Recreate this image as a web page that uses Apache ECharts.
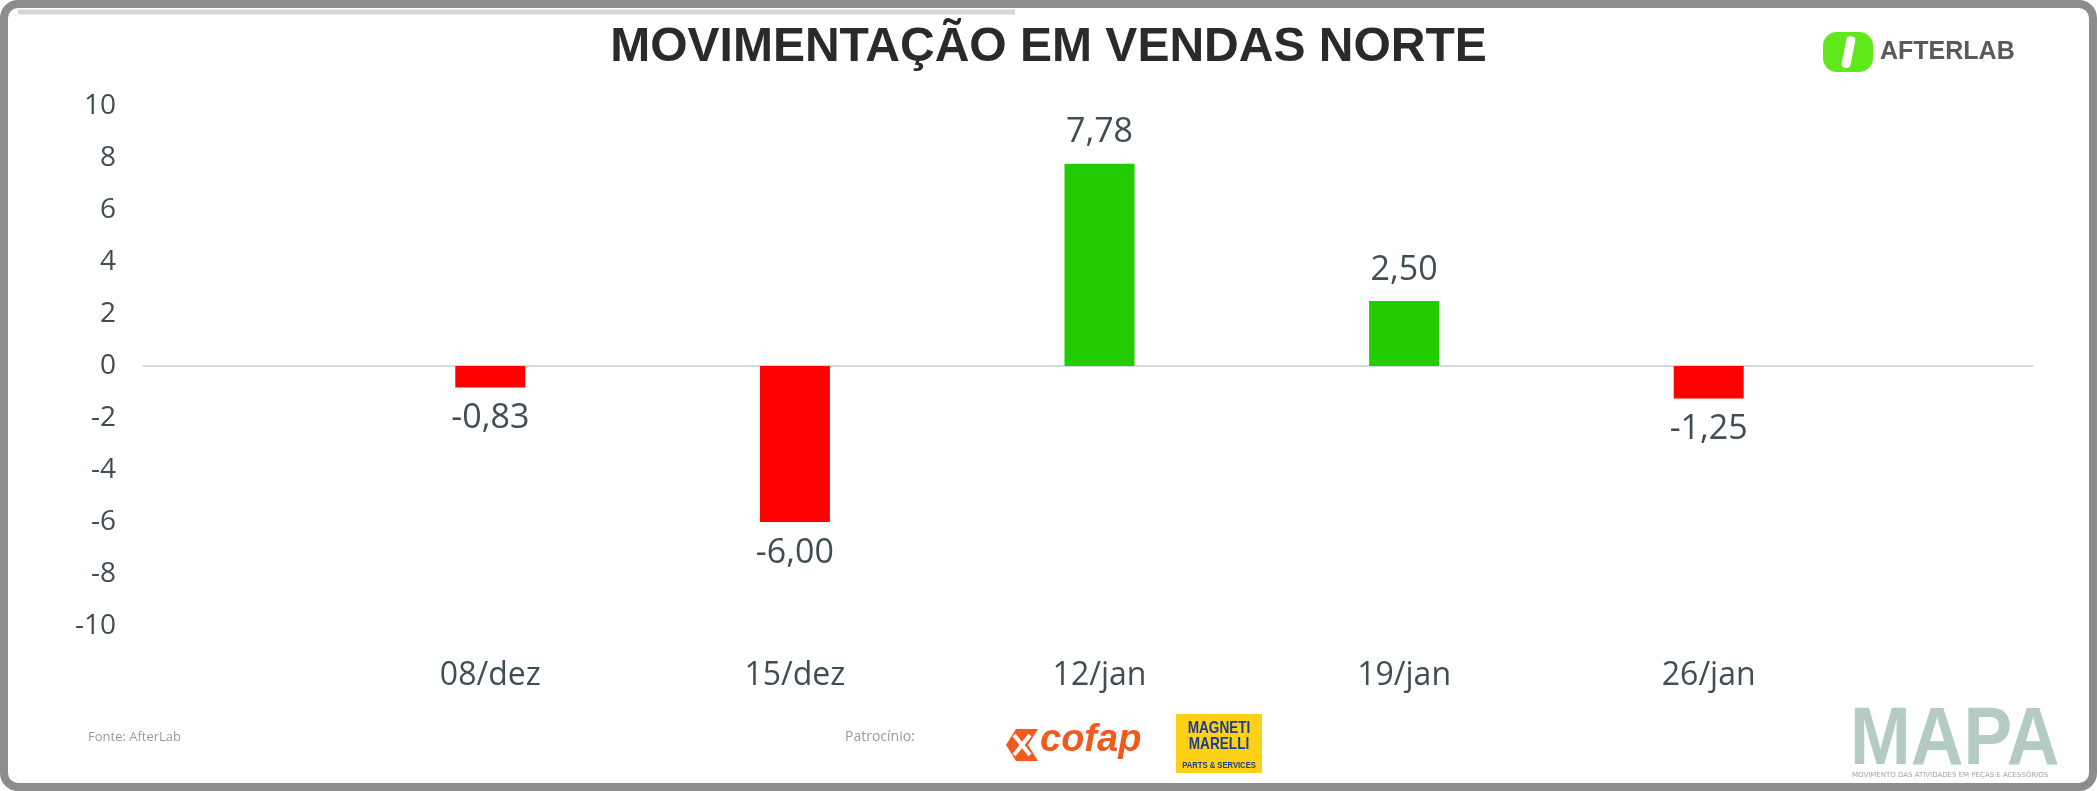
<!DOCTYPE html>
<html>
<head>
<meta charset="utf-8">
<script src="https://cdn.jsdelivr.net/npm/echarts@6/dist/echarts.min.js"></script>
<style>
html,body{margin:0;padding:0;background:#fff;}
#chart{width:2097px;height:791px;}
</style>
</head>
<body>
<div id="chart"></div>
<script>
// ---- data ----
const categories = ['08/dez', '15/dez', '12/jan', '19/jan', '26/jan'];
const variation = [-0.83, -6.00, 7.78, 2.50, -1.25];
const yMin = -10;
const yMax = 10;
const yStep = 2;
const titleText = 'MOVIMENTAÇÃO EM VENDAS NORTE';

// ---- style ----
const textColor = '#3f4e55';
const posColor = '#22cc00';
const negColor = '#ff0000';
const font = "'Open Sans', 'Noto Sans', sans-serif";

const barData = variation.map(v => ({
  value: v,
  itemStyle: { color: v >= 0 ? posColor : negColor },
  label: { position: v >= 0 ? 'top' : 'bottom' }
}));

const gridTop = 106, gridHeight = 520;

const chart = echarts.init(document.getElementById('chart'), null, { renderer: 'canvas' });
chart.setOption({
  backgroundColor: '#ffffff',
  animation: false,
  title: {
    text: titleText,
    left: 'center',
    top: 19,
    textStyle: { fontFamily: "'Liberation Sans', Arial, sans-serif", fontWeight: 'bold', fontSize: 48, color: '#2a2a2a' }
  },
  grid: [
    { left: 143, right: 64, top: gridTop, height: gridHeight },
    { left: 338, right: 236, top: gridTop, height: gridHeight }
  ],
  xAxis: [
    {
      gridIndex: 0, type: 'category', data: categories,
      axisLine: { show: true, onZero: true, lineStyle: { color: '#d3dcdc', width: 2 } },
      axisTick: { show: false }, axisLabel: { show: false }, splitLine: { show: false }
    },
    {
      gridIndex: 1, type: 'category', data: categories,
      axisLine: { show: false, onZero: false }, axisTick: { show: false },
      axisLabel: { show: true, margin: 34, fontFamily: font, fontSize: 32, color: textColor }
    }
  ],
  yAxis: [
    {
      gridIndex: 0, type: 'value', min: yMin, max: yMax, interval: yStep,
      axisLine: { show: false }, axisTick: { show: false }, splitLine: { show: false },
      axisLabel: { margin: 27, fontFamily: font, fontSize: 28, color: textColor }
    },
    {
      gridIndex: 1, type: 'value', min: yMin, max: yMax, interval: yStep, show: false,
      splitLine: { show: false }
    }
  ],
  series: [{
    type: 'bar',
    xAxisIndex: 1, yAxisIndex: 1,
    data: barData,
    barWidth: 70,
    label: {
      show: true, distance: 14,
      fontFamily: font, fontSize: 34, color: textColor,
      formatter: p => p.value.toFixed(2).replace('.', ',')
    }
  }],
  graphic: [
    // frame
    { type: 'rect', shape: { x: 4, y: 4, width: 2089, height: 783, r: 14 }, style: { fill: 'none', stroke: '#8c8c8c', lineWidth: 8 }, silent: true, z: 100 },
    { type: 'line', shape: { x1: 18, y1: 12, x2: 1015, y2: 12 }, style: { stroke: '#d6d6d6', lineWidth: 5 }, silent: true },
    // AfterLab logo
    { type: 'rect', shape: { x: 1823, y: 32, width: 50, height: 40, r: 14 }, style: { fill: '#5fe81a' } },
    { type: 'rect', shape: { x: 1844, y: 36, width: 9, height: 32, r: 4 }, style: { fill: '#ffffff' }, rotation: -0.2, originX: 1848, originY: 52 },
    { type: 'text', x: 1880, y: 52, style: { text: 'AFTERLAB', verticalAlign: 'middle', font: "bold 25px 'Liberation Sans', Arial, sans-serif", fill: '#5a5a5a', letterSpacing: 2 } },
    // source
    { type: 'text', left: 88, top: 731, style: { text: 'Fonte: AfterLab', font: "13px 'Open Sans', sans-serif", fill: '#9a9a9a' } },
    { type: 'text', left: 845, top: 730, style: { text: 'Patrocínio:', font: "14px 'Open Sans', sans-serif", fill: '#9a9a9a' } },
    // Cofap logo
    { type: 'polygon', shape: { points: [[1006, 745], [1016, 729], [1038, 729], [1028, 745], [1038, 761], [1016, 761]] }, style: { fill: '#f05a1e' } },
    { type: 'line', shape: { x1: 1014, y1: 735, x2: 1030, y2: 755 }, style: { stroke: '#ffffff', lineWidth: 4 } },
    { type: 'line', shape: { x1: 1030, y1: 735, x2: 1014, y2: 755 }, style: { stroke: '#ffffff', lineWidth: 4 } },
    { type: 'text', left: 1040, top: 722, style: { text: 'cofap', font: "italic bold 38px 'Liberation Sans', Arial, sans-serif", fill: '#f05a1e' } },
    // Magneti Marelli logo
    { type: 'rect', shape: { x: 1176, y: 714, width: 86, height: 59 }, style: { fill: '#fcd116' } },
    { type: 'text', x: 1219, y: 720, scaleX: 0.8, style: { text: 'MAGNETI', align: 'center', verticalAlign: 'top', font: "bold 17px 'Liberation Sans', sans-serif", fill: '#1d3b8f' } },
    { type: 'text', x: 1219, y: 736, scaleX: 0.8, style: { text: 'MARELLI', align: 'center', verticalAlign: 'top', font: "bold 17px 'Liberation Sans', sans-serif", fill: '#1d3b8f' } },
    { type: 'text', x: 1219, y: 761, scaleX: 0.85, style: { text: 'PARTS & SERVICES', align: 'center', verticalAlign: 'top', font: "bold 9px 'Liberation Sans', sans-serif", fill: '#1d3b8f' } },
    // MAPA logo
    { type: 'text', x: 1850, y: 700, scaleX: 0.89, style: { text: 'MAPA', verticalAlign: 'top', font: "bold 82px 'Liberation Sans', 'DejaVu Sans Condensed', sans-serif", fill: '#b3cbc4' } },
    { type: 'text', x: 1852, y: 772, style: { text: 'MOVIMENTO DAS ATIVIDADES EM PEÇAS E ACESSÓRIOS', verticalAlign: 'top', font: "7px 'DejaVu Sans', sans-serif", fill: '#9aa8a4' } }
  ]
});
</script>
</body>
</html>
